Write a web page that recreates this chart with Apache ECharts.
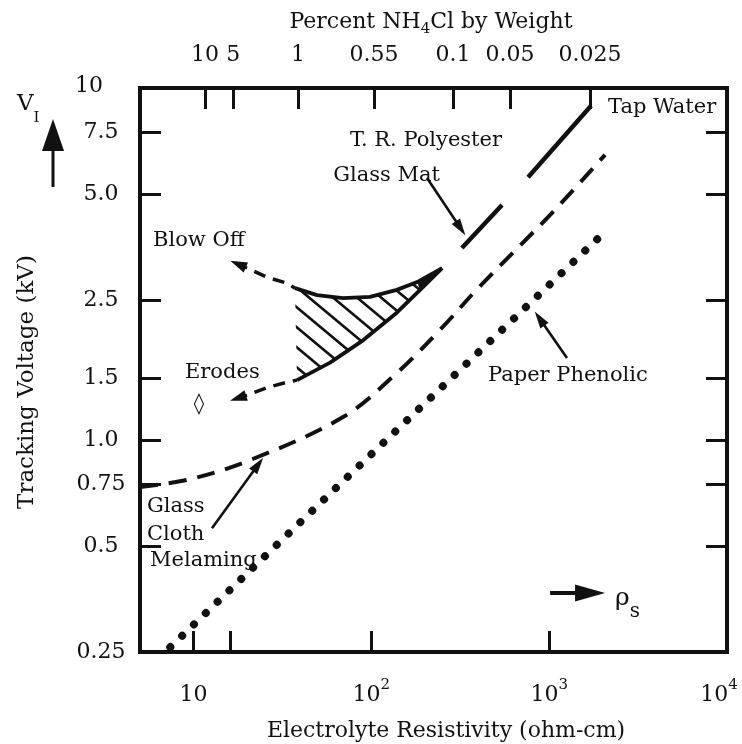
<!DOCTYPE html>
<html>
<head>
<meta charset="utf-8">
<title>Tracking Voltage vs Electrolyte Resistivity</title>
<script src="https://cdn.jsdelivr.net/npm/echarts@6.0.0/dist/echarts.min.js"></script>
<style>
  html, body { margin: 0; padding: 0; background: #fff; }
  #chart { width: 742px; height: 744px; }
</style>
</head>
<body>
<div id="chart"></div>
<script>
// ---- axis ticks and labels ----
const resistivityTicks = [10, 16, 100, 1000];
const resistivityLabelValues = [10, 100, 1000, 10000];
const resistivityLabelTexts = ['10', '10{sup|2}', '10{sup|3}', '10{supEnd|4}'];

// top scale: NH4Cl concentration, placed at the matching resistivity
const percentTickValues = [11.6, 16.7, 38.7, 103.5, 288, 603, 1698];
const percentTickTexts = ['10', '5', '1', '0.55', '0.1', '0.05', '0.025'];

const voltageLabelValues = [0.25, 0.5, 0.75, 1, 1.5, 2.5, 5, 7.5, 10];
const voltageLabelTexts = ['0.25', '0.5', '0.75', '1.0', '1.5', '2.5', '5.0', '7.5', '{top|10}'];
const voltageTicks = [0.5, 0.75, 1, 1.5, 2.5, 5, 7.5];

// ---- curves: [resistivity (ohm-cm), tracking voltage (kV)] ----
const polyesterA = [[323, 3.51], [543, 4.65]];
const polyesterB = [[761, 5.58], [1720, 8.9]];
const glassCloth = [[5, 0.735], [9.55, 0.774], [20.8, 0.877], [69.3, 1.162], [139, 1.55],
                    [253, 2.10], [398, 2.70], [1052, 4.45], [2062, 6.46]];
const paperPhenolic = [[7.4, 0.258], [66.7, 0.75], [2133, 3.97]];
const blowOffTrail = [[20, 3.08], [25.9, 2.90], [33.6, 2.79], [37.2, 2.70]];
const blowOffEdge = [[37.2, 2.70], [49.5, 2.58], [69.3, 2.53], [98.3, 2.55], [139, 2.67], [181, 2.81], [250, 3.08]];
const erodesEdge = [[38.2, 1.48], [58.6, 1.66], [89.8, 1.92], [139, 2.30], [188, 2.67], [250, 3.08]];
const erodesTrail = [[20, 1.34], [25.9, 1.41], [33.6, 1.46], [38.2, 1.48]];

const INK = '#111';
const FONT = 'DejaVu Serif';

function labelFor(values, texts) {
  return function (v) {
    let best = 0;
    for (let i = 1; i < values.length; i++) {
      if (Math.abs(Math.log(values[i] / v)) < Math.abs(Math.log(values[best] / v))) best = i;
    }
    return texts[best];
  };
}

// diagonal hatch tile for the blow-off / erosion band
const hatchTile = document.createElement('canvas');
hatchTile.width = 24;
hatchTile.height = 20;
(function () {
  const ctx = hatchTile.getContext('2d');
  ctx.strokeStyle = INK;
  ctx.lineWidth = 2.6;
  for (let k = -1; k <= 1; k++) {
    ctx.beginPath();
    ctx.moveTo(k * 24 - 24, -20);
    ctx.lineTo(k * 24 + 48, 40);
    ctx.stroke();
  }
})();

function arrowLine(from, to, size, width) {
  return {
    silent: true,
    animation: false,
    symbol: ['none', 'triangle'],
    symbolSize: size,
    label: { show: false },
    emphasis: { disabled: true },
    lineStyle: { color: INK, width: width, type: 'solid' },
    data: [[{ coord: from }, { coord: to }]]
  };
}

function curve(name, data, lineStyle, extra) {
  return Object.assign({
    name: name,
    type: 'line',
    data: data,
    symbol: 'none',
    silent: true,
    animation: false,
    lineStyle: Object.assign({ color: INK }, lineStyle)
  }, extra || {});
}

function note(text, x, y, align, size) {
  return {
    type: 'text', x: x, y: y, silent: true,
    style: { text: text, align: align, verticalAlign: 'middle', textAlign: align, textVerticalAlign: 'middle',
      fontFamily: FONT, fontSize: size || 21, fill: INK }
  };
}

const axisTickStyle = { inside: true, length: 21, lineStyle: { color: INK, width: 3 } };
const axisLineStyle = { show: true, onZero: false, lineStyle: { color: INK, width: 4, cap: 'square' } };
const labelStyle = { color: INK, fontFamily: FONT, fontSize: 22 };
const supStyle = { fontFamily: FONT, fontSize: 15, lineHeight: 16, verticalAlign: 'top', color: INK };

const chart = echarts.init(document.getElementById('chart'), null, { renderer: 'canvas' });

chart.setOption({
  animation: false,
  backgroundColor: '#fff',
  textStyle: { fontFamily: FONT, color: INK },
  grid: { left: 140, right: 15, top: 88, bottom: 92, containLabel: false, outerBoundsMode: 'none' },
  xAxis: [
    {
      type: 'log', logBase: 10, min: 5, max: 10000, position: 'bottom',
      axisLine: axisLineStyle,
      axisTick: Object.assign({ customValues: resistivityTicks }, axisTickStyle),
      axisLabel: Object.assign({
        customValues: resistivityLabelValues,
        formatter: labelFor(resistivityLabelValues, resistivityLabelTexts),
        margin: 26, lineHeight: 34,
        rich: {
          sup: supStyle,
          supEnd: Object.assign({ padding: [0, 16, 0, 0] }, supStyle)
        }
      }, labelStyle),
      splitLine: { show: false },
      minorTick: { show: false }
    },
    {
      type: 'log', logBase: 10, min: 5, max: 10000, position: 'top',
      axisLine: axisLineStyle,
      axisTick: Object.assign({ customValues: percentTickValues }, axisTickStyle),
      axisLabel: Object.assign({
        customValues: percentTickValues,
        formatter: labelFor(percentTickValues, percentTickTexts),
        margin: 22
      }, labelStyle),
      splitLine: { show: false }
    }
  ],
  yAxis: [
    {
      type: 'log', logBase: 10, min: 0.25, max: 10, position: 'left',
      axisLine: axisLineStyle,
      axisTick: Object.assign({ customValues: voltageTicks }, axisTickStyle),
      axisLabel: Object.assign({
        customValues: voltageLabelValues,
        formatter: labelFor(voltageLabelValues, voltageLabelTexts),
        align: 'center', margin: 39,
        rich: { top: { fontFamily: FONT, fontSize: 22, color: INK, padding: [0, 24, 4, 0] } }
      }, labelStyle),
      splitLine: { show: false }
    },
    {
      type: 'log', logBase: 10, min: 0.25, max: 10, position: 'right',
      axisLine: axisLineStyle,
      axisTick: Object.assign({ customValues: voltageTicks }, axisTickStyle),
      axisLabel: { show: false },
      splitLine: { show: false }
    }
  ],
  series: [
    {
      name: 'Hatched band',
      type: 'custom',
      silent: true,
      animation: false,
      data: [blowOffEdge[0]],
      renderItem: function (params, api) {
        const upper = blowOffEdge.map(function (p) { return api.coord(p); });
        const lower = erodesEdge.map(function (p) { return api.coord(p); }).reverse();
        const tip = blowOffEdge.slice(-2).map(function (p) { return api.coord(p); })
          .concat([api.coord(erodesEdge[erodesEdge.length - 2])]);
        return {
          type: 'group',
          children: [
            { type: 'polygon', shape: { points: upper.concat(lower) },
              style: { fill: { image: hatchTile, repeat: 'repeat' }, stroke: null } },
            { type: 'polygon', shape: { points: tip }, style: { fill: INK, stroke: null } }
          ]
        };
      }
    },
    curve('Paper Phenolic', paperPhenolic, { width: 8, type: [0.1, 16.3], cap: 'round' }, {
      markLine: arrowLine([1259, 1.71], [883, 2.213], [10, 17], 2.6)
    }),
    curve('Glass Cloth Melamine', glassCloth, { width: 4, type: [18, 11] }, {
      smooth: 0.35,
      markLine: arrowLine([12.7, 0.562], [23.1, 0.852], [10, 17], 2.6)
    }),
    curve('T. R. Polyester Glass Mat', polyesterA, { width: 4.5 }, {
      markLine: arrowLine([205.6, 5.55], [317.6, 3.995], [10, 17], 2.6)
    }),
    curve('Tap Water', polyesterB, { width: 4.5 }, {
      markLine: arrowLine([1012, 0.3675], [1698, 0.3675], [17, 30], 4)
    }),
    curve('Blow Off', blowOffTrail, { width: 3.5, type: [12, 8], dashOffset: 12 }, {
      markLine: arrowLine([20, 3.08], [17.8, 3.16], [11, 17], 3)
    }),
    curve('Blow Off edge', blowOffEdge, { width: 3.8 }),
    curve('Erodes edge', erodesEdge, { width: 3.8 }),
    curve('Erodes', erodesTrail, { width: 3.5, type: [12, 8], dashOffset: 12 }, {
      markLine: arrowLine([20, 1.34], [17.8, 1.315], [11, 17], 3)
    })
  ],
  graphic: [
    { type: 'text', x: 431, y: 22, silent: true,
      style: { text: 'Percent NH{sub|4}Cl by Weight', align: 'center', verticalAlign: 'middle',
        textAlign: 'center', textVerticalAlign: 'middle', fontFamily: FONT, fontSize: 22, lineHeight: 30, fill: INK,
        rich: { sub: { fontFamily: FONT, fontSize: 15, lineHeight: 16, verticalAlign: 'bottom', fill: INK } } } },
    note('Electrolyte Resistivity (ohm-cm)', 446, 731, 'center', 22),
    { type: 'text', x: 27, y: 382, rotation: Math.PI / 2, silent: true,
      style: { text: 'Tracking Voltage (kV)', align: 'center', verticalAlign: 'middle',
        textAlign: 'center', textVerticalAlign: 'middle', fontFamily: FONT, fontSize: 23, fill: INK } },
    { type: 'text', x: 17, y: 104, silent: true,
      style: { text: 'V{sub|I}', align: 'left', verticalAlign: 'middle', textAlign: 'left', textVerticalAlign: 'middle',
        fontFamily: FONT, fontSize: 23, lineHeight: 44, fill: INK,
        rich: { sub: { fontFamily: FONT, fontSize: 15, lineHeight: 16, verticalAlign: 'bottom', fill: INK } } } },
    { type: 'line', silent: true, shape: { x1: 53, y1: 187, x2: 53, y2: 146 }, style: { stroke: INK, lineWidth: 3 } },
    { type: 'polygon', silent: true, shape: { points: [[53, 119], [42, 151], [64, 151]] }, style: { fill: INK } },
    { type: 'text', x: 615, y: 598, silent: true,
      style: { text: 'ρ{sub|s}', align: 'left', verticalAlign: 'middle', textAlign: 'left', textVerticalAlign: 'middle',
        fontFamily: FONT, fontSize: 25, lineHeight: 48, fill: INK,
        rich: { sub: { fontFamily: FONT, fontSize: 20, lineHeight: 22, verticalAlign: 'bottom', fill: INK } } } },
    note('T. R. Polyester', 502, 141, 'right'),
    note('Glass Mat', 440, 176, 'right'),
    note('Tap Water', 608, 108, 'left'),
    note('Paper Phenolic', 488, 376, 'left'),
    note('Blow Off', 153, 241, 'left'),
    note('Erodes', 185, 373, 'left'),
    note('◊', 199, 405, 'center'),
    note('Glass', 147, 507, 'left'),
    note('Cloth', 147, 535, 'left'),
    note('Melaming', 150, 561, 'left')
  ]
});
</script>
</body>
</html>
